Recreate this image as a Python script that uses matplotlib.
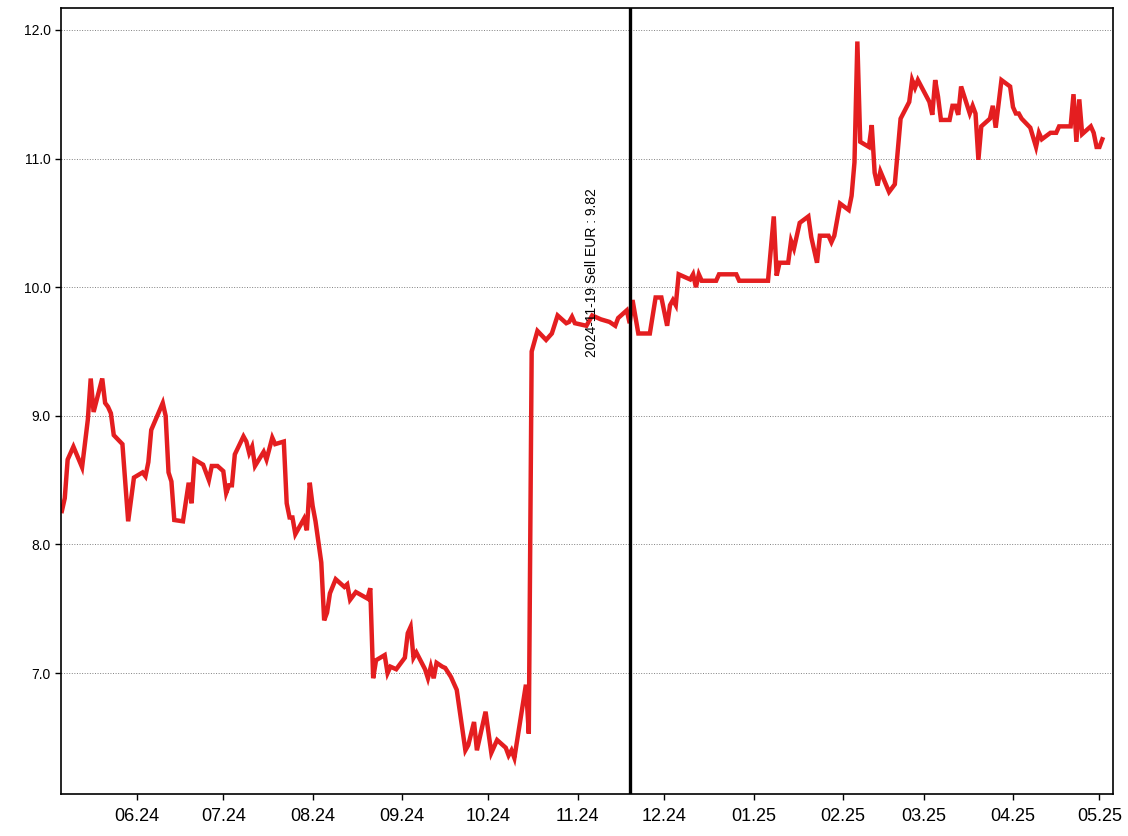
import numpy as np
import pandas as pd
import matplotlib
matplotlib.use("Agg")
import matplotlib.pyplot as plt
import matplotlib.dates as mdates

plt.rcParams['font.family'] = ['Liberation Sans', 'DejaVu Sans']

# Data: days after the start date, and the rate
start = pd.Timestamp("2024-05-06")
days = [0, 1, 2, 4, 7, 9, 10, 11, 14, 15, 16, 17, 18, 21, 23, 25, 28, 29, 30, 31,
        35, 36, 37, 38, 39, 42, 44, 45, 46, 49, 51, 52, 54, 56, 57, 58, 59, 60, 63, 64,
        65, 66, 67, 70, 71, 73, 74, 77, 78, 79, 80, 81, 84, 85, 86, 87, 88, 90, 91, 92,
        93, 95, 98, 99, 100, 102, 106, 107, 108, 109, 112, 113, 114, 116, 119, 120, 121, 122, 123, 126,
        127, 128, 129, 130, 132, 133, 135, 137, 140, 141, 143, 144, 147, 149, 151, 153, 154, 155, 156, 157,
        161, 162, 163, 165, 168, 170, 172, 175, 176, 177, 178, 182, 184, 187, 190, 192, 193, 196, 197, 198,
        200, 204, 206, 208, 210, 211, 212, 213, 214, 218, 219, 220, 221, 222, 227, 228, 234, 235, 245, 247,
        248, 249, 252, 253, 254, 256, 259, 260, 262, 263, 266, 267, 268, 270, 273, 274, 275, 276, 277, 280,
        281, 282, 283, 284, 287, 289, 291, 294, 295, 296, 297, 301, 302, 303, 304, 305, 308, 309, 310, 311,
        312, 315, 316, 317, 318, 319, 322, 323, 324, 326, 329, 330, 331, 332, 333, 336, 338, 339, 340, 343,
        345, 346, 350, 351, 352, 353, 354, 357, 358, 359, 360, 361]
rate = [8.26, 8.36, 8.66, 8.76, 8.60, 8.97, 9.29, 9.03, 9.29, 9.10, 9.07, 9.02, 8.85, 8.78, 8.18, 8.52, 8.56, 8.53, 8.64, 8.89,
        9.10, 9.00, 8.56, 8.49, 8.19, 8.18, 8.48, 8.32, 8.66, 8.62, 8.50, 8.61, 8.61, 8.57, 8.40, 8.46, 8.46, 8.70, 8.84, 8.80,
        8.71, 8.76, 8.61, 8.72, 8.66, 8.83, 8.78, 8.80, 8.32, 8.21, 8.21, 8.08, 8.20, 8.11, 8.48, 8.30, 8.18, 7.86, 7.41, 7.47,
        7.62, 7.73, 7.67, 7.69, 7.57, 7.63, 7.58, 7.66, 6.96, 7.10, 7.14, 7.00, 7.05, 7.03, 7.12, 7.31, 7.36, 7.12, 7.16, 7.03,
        6.96, 7.05, 6.96, 7.08, 7.05, 7.04, 6.97, 6.87, 6.40, 6.44, 6.62, 6.40, 6.70, 6.38, 6.48, 6.44, 6.42, 6.36, 6.40, 6.34,
        6.91, 6.53, 9.50, 9.66, 9.59, 9.64, 9.78, 9.72, 9.73, 9.77, 9.72, 9.70, 9.78, 9.75, 9.73, 9.70, 9.76, 9.82, 9.72, 9.90,
        9.64, 9.64, 9.92, 9.92, 9.70, 9.86, 9.90, 9.86, 10.10, 10.06, 10.10, 10.00, 10.10, 10.05, 10.05, 10.10, 10.10, 10.05, 10.05, 10.55,
        10.09, 10.19, 10.19, 10.36, 10.30, 10.50, 10.55, 10.39, 10.19, 10.40, 10.40, 10.35, 10.40, 10.65, 10.60, 10.71, 10.97, 11.91, 11.13, 11.09,
        11.26, 10.89, 10.79, 10.90, 10.74, 10.80, 11.31, 11.44, 11.61, 11.55, 11.61, 11.44, 11.34, 11.61, 11.48, 11.30, 11.30, 11.41, 11.41, 11.34,
        11.56, 11.35, 11.41, 11.35, 10.99, 11.25, 11.31, 11.41, 11.24, 11.61, 11.56, 11.40, 11.35, 11.35, 11.31, 11.24, 11.09, 11.20, 11.15, 11.20,
        11.20, 11.25, 11.25, 11.50, 11.13, 11.46, 11.19, 11.25, 11.20, 11.09, 11.09, 11.15]

trade_date = pd.Timestamp("2024-11-19")
trade_label = "2024-11-19 Sell EUR : 9.82"
month_ticks = pd.date_range("2024-06-01", "2025-05-01", freq="MS")

dates = start + pd.to_timedelta(days, unit="D")

fig = plt.figure(figsize=(11.28, 8.36), dpi=100)
ax = fig.add_axes([0.0541, 0.0502, 0.9326, 0.9402])

ax.plot(dates, rate, color="#e41e20", lw=3.2, solid_joinstyle="miter")
ax.axvline(trade_date, color="black", lw=2.4)
ax.text(trade_date - pd.Timedelta(days=13), 9.46, trade_label, rotation=90,
        ha="center", va="bottom", fontsize=10)

ax.set_xlim(start - pd.Timedelta(days=0.3), start + pd.Timedelta(days=364.7))
ax.set_ylim(6.06, 12.17)
ax.set_yticks([7, 8, 9, 10, 11, 12])
ax.yaxis.set_major_formatter(matplotlib.ticker.FormatStrFormatter("%.1f"))
ax.set_xticks(month_ticks)
ax.xaxis.set_major_formatter(mdates.DateFormatter("%m.%y"))
ax.tick_params(axis="x", labelsize=13, length=4, width=1, pad=6)
ax.tick_params(axis="y", labelsize=10, length=4, width=1)
ax.grid(axis="y", color="gray", linestyle=":", lw=0.7)
for s in ax.spines.values():
    s.set_linewidth(1.2)

fig.savefig("out.png", dpi=100)
